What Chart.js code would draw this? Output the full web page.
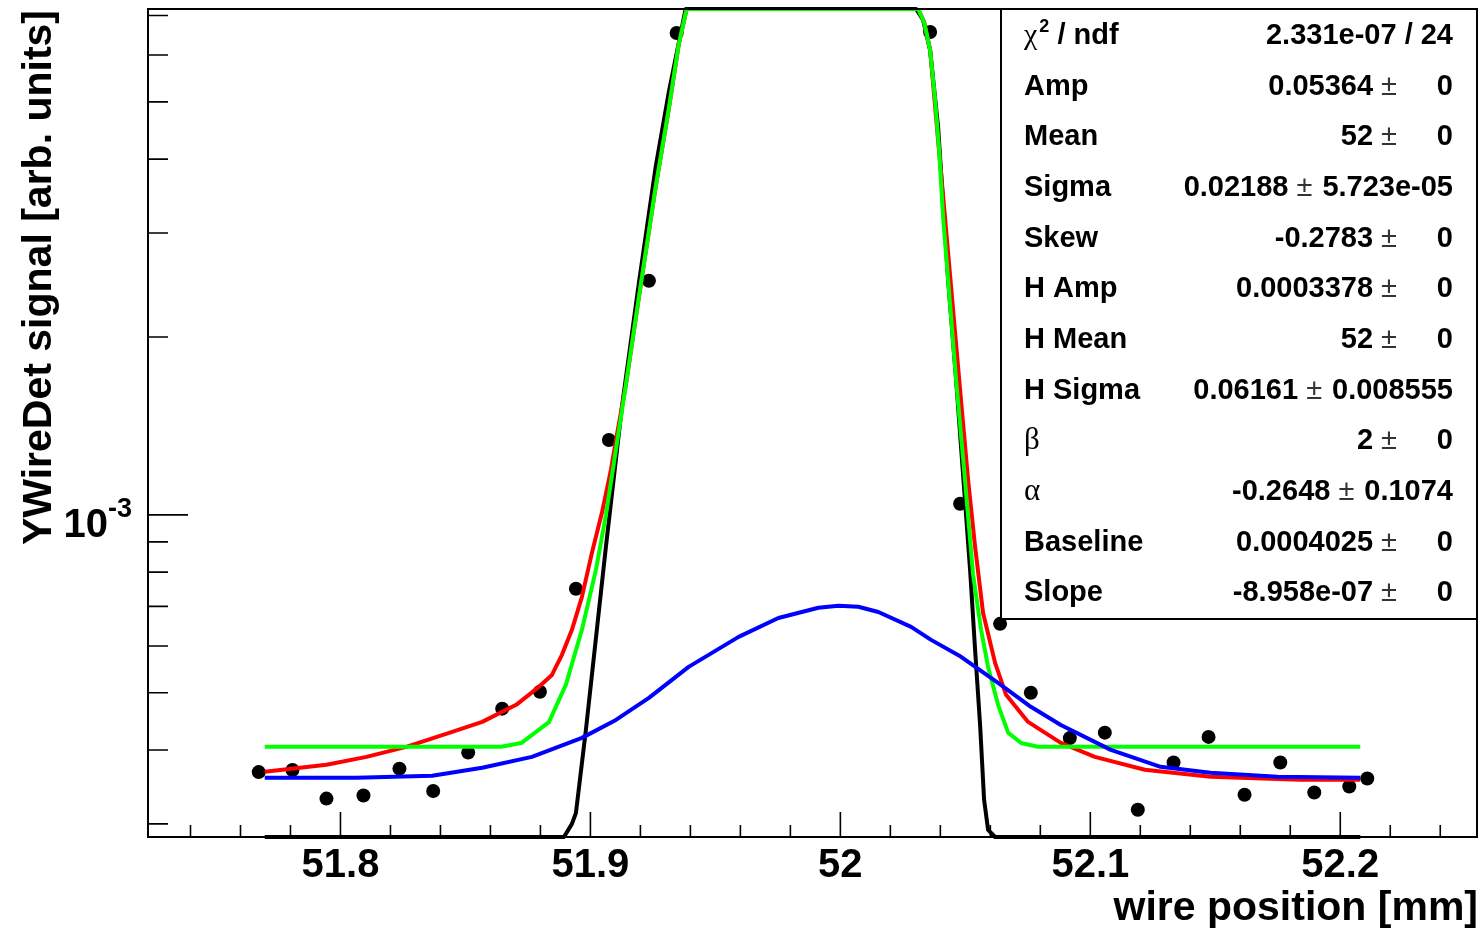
<!DOCTYPE html>
<html>
<head>
<meta charset="utf-8">
<title>YWireDet wire scan</title>
<script src="https://cdn.jsdelivr.net/npm/chart.js@4.4.0/dist/chart.umd.min.js"></script>
<style>
html, body { margin: 0; padding: 0; background: #fff; }
canvas { display: block; }
</style>
</head>
<body>
<canvas id="scanChart" width="1484" height="931"></canvas>
<script>
// axis ranges
const X_MIN = 51.723, X_MAX = 52.2547;
const Y_MIN = 2.85e-4, Y_MAX = 7.18e-3;

// ticks
const xMajor = [51.8, 51.9, 52.0, 52.1, 52.2];
const xLabels = ['51.8', '51.9', '52', '52.1', '52.2'];
const xMinor = [51.74, 51.76, 51.78, 51.82, 51.84, 51.86, 51.88, 51.92, 51.94, 51.96, 51.98,
                52.02, 52.04, 52.06, 52.08, 52.12, 52.14, 52.16, 52.18, 52.22, 52.24];
const yMajor = [1e-3];
const yLabels = [['10', '-3']];
const yMinor = [3e-4, 4e-4, 5e-4, 6e-4, 7e-4, 8e-4, 9e-4, 2e-3, 3e-3, 4e-3, 5e-3, 6e-3, 7e-3];

// measured wire scan
const scanX = [51.7673, 51.7808, 51.7944, 51.8092, 51.8236, 51.8371, 51.8511, 51.8647, 51.8798,
               51.8942, 51.9074, 51.9234, 51.9345, 52.0359, 52.0479, 52.0639, 52.0762, 52.0918,
               52.1058, 52.1190, 52.1333, 52.1473, 52.1617, 52.1760, 52.1896, 52.2036, 52.2108];
const scanY = [3.67e-4, 3.70e-4, 3.31e-4, 3.35e-4, 3.72e-4, 3.41e-4, 3.96e-4, 4.70e-4, 5.02e-4,
               7.50e-4, 1.339e-3, 2.49e-3, 6.54e-3, 6.565e-3, 1.044e-3, 6.54e-4, 5.00e-4, 4.19e-4,
               4.28e-4, 3.17e-4, 3.81e-4, 4.21e-4, 3.36e-4, 3.81e-4, 3.39e-4, 3.47e-4, 3.58e-4];

// core peak alone (black), sits on the frame where it leaves the range
const coreX = [51.7697, 51.8894, 51.8926, 51.8942, 51.8982, 51.9062, 51.9126, 51.9194, 51.9261,
               51.9313, 51.9381, 52.0303, 52.0331, 52.0359, 52.0391, 52.0431, 52.0463, 52.0491,
               52.0519, 52.0539, 52.0559, 52.0575, 52.0591, 52.0619, 52.2080];
const coreY = [2.85e-4, 2.85e-4, 3.00e-4, 3.13e-4, 4.33e-4, 8.83e-4, 1.523e-3, 2.47e-3, 3.88e-3,
               5.176e-3, 7.18e-3, 7.18e-3, 6.88e-3, 6.12e-3, 4.535e-3, 2.498e-3, 1.692e-3, 1.169e-3,
               8.07e-4, 5.91e-4, 4.41e-4, 3.295e-4, 2.93e-4, 2.85e-4, 2.85e-4];

// core peak + baseline (green)
const peakX = [51.7697, 51.8643, 51.8723, 51.8834, 51.8902, 51.8966, 51.9022, 51.9062, 51.9102,
               51.9142, 51.9194, 51.9261, 51.9313, 51.9353, 51.9385, 52.0311, 52.0335, 52.0359,
               52.0379, 52.0395, 52.0411, 52.0431, 52.0463, 52.0495, 52.0531, 52.0563, 52.0591,
               52.0631, 52.0671, 52.0723, 52.0790, 52.2080];
const peakY = [4.05e-4, 4.05e-4, 4.11e-4, 4.46e-4, 5.16e-4, 6.39e-4, 8.07e-4, 1.0e-3, 1.288e-3,
               1.66e-3, 2.338e-3, 3.589e-3, 4.846e-3, 6.243e-3, 7.18e-3, 7.18e-3, 6.826e-3, 6.12e-3,
               5.04e-3, 4.146e-3, 3.193e-3, 2.498e-3, 1.692e-3, 1.192e-3, 7.92e-4, 6.39e-4, 5.53e-4,
               4.77e-4, 4.28e-4, 4.11e-4, 4.05e-4, 4.05e-4];

// full fit (red)
const fitX = [51.7697, 51.7944, 51.8104, 51.8263, 51.8435, 51.8567, 51.8703, 51.8794, 51.8846,
              51.8886, 51.8926, 51.8966, 51.9006, 51.9046, 51.9082, 51.9106, 51.9142, 51.9194,
              51.9261, 51.9313, 51.9353, 51.9385, 52.0311, 52.0335, 52.0359, 52.0391, 52.0423,
              52.0451, 52.0479, 52.0511, 52.0539, 52.0571, 52.0619, 52.0663, 52.0751, 52.0882,
              52.1018, 52.1218, 52.1481, 52.1840, 52.2080];
const fitY = [3.674e-4, 3.776e-4, 3.895e-4, 4.05e-4, 4.277e-4, 4.463e-4, 4.77e-4, 5.117e-4, 5.36e-4,
              5.796e-4, 6.39e-4, 7.266e-4, 8.624e-4, 1.008e-3, 1.192e-3, 1.366e-3, 1.66e-3, 2.338e-3,
              3.589e-3, 4.846e-3, 6.243e-3, 7.18e-3, 7.18e-3, 6.826e-3, 6.12e-3, 4.31e-3, 3.035e-3,
              2.223e-3, 1.627e-3, 1.146e-3, 8.83e-4, 6.824e-4, 5.618e-4, 4.96e-4, 4.463e-4, 4.113e-4,
              3.895e-4, 3.703e-4, 3.603e-4, 3.561e-4, 3.561e-4];

// halo gaussian + baseline (blue)
const haloX = [51.7697, 51.8064, 51.8367, 51.8567, 51.8766, 51.8966, 51.9102, 51.9234, 51.9393,
               51.9593, 51.9752, 51.9912, 51.9992, 52.0072, 52.0152, 52.0283, 52.0363, 52.0483,
               52.0631, 52.0762, 52.0882, 52.1082, 52.1281, 52.1481, 52.1749, 52.2080];
const haloY = [3.589e-4, 3.589e-4, 3.618e-4, 3.732e-4, 3.895e-4, 4.194e-4, 4.498e-4, 4.901e-4, 5.531e-4,
               6.217e-4, 6.692e-4, 6.963e-4, 7.015e-4, 6.989e-4, 6.85e-4, 6.464e-4, 6.144e-4, 5.751e-4,
               5.197e-4, 4.733e-4, 4.41e-4, 4.002e-4, 3.747e-4, 3.66e-4, 3.603e-4, 3.589e-4];

// fit parameters for the stats box
const statNames = ['Amp', 'Mean', 'Sigma', 'Skew', 'H Amp', 'H Mean', 'H Sigma', '\u03b2', '\u03b1', 'Baseline', 'Slope'];
const statValues = ['0.05364', '52', '0.02188', '-0.2783', '0.0003378', '52', '0.06161', '2', '-0.2648', '0.0004025', '-8.958e-07'];
const statErrors = ['0', '0', '5.723e-05', '0', '0', '0', '0.008555', '0', '0.1074', '0', '0'];
const chi2Text = '2.331e-07 / 24';

function pts(xs, ys) {
    return xs.map((x, i) => ({ x: x, y: ys[i] }));
}

function curve(label, xs, ys, color, order) {
    return {
        label: label,
        data: pts(xs, ys),
        showLine: true,
        borderColor: color,
        borderWidth: 4,
        borderJoinStyle: 'round',
        pointRadius: 0,
        fill: false,
        tension: 0,
        order: order
    };
}

const BOLD = '"Liberation Sans", Arial, Helvetica, sans-serif';
const SERIF = '"Liberation Serif", "DejaVu Serif", serif';

// frame, inward ticks, labels and the stats box, ROOT style
const rootFrame = {
    id: 'rootFrame',
    afterDatasetsDraw(chart) {
        const ctx = chart.ctx;
        const a = chart.chartArea;
        const xs = chart.scales.x, ys = chart.scales.y;
        ctx.save();

        ctx.strokeStyle = '#000';
        ctx.lineWidth = 2;
        ctx.strokeRect(a.left, a.top, a.right - a.left, a.bottom - a.top);

        ctx.lineWidth = 1.6;
        ctx.beginPath();
        xMinor.forEach(v => {
            const px = xs.getPixelForValue(v);
            ctx.moveTo(px, a.bottom); ctx.lineTo(px, a.bottom - 12);
        });
        xMajor.forEach(v => {
            const px = xs.getPixelForValue(v);
            ctx.moveTo(px, a.bottom); ctx.lineTo(px, a.bottom - 25);
        });
        yMinor.forEach(v => {
            const py = ys.getPixelForValue(v);
            ctx.moveTo(a.left, py); ctx.lineTo(a.left + 20, py);
        });
        yMajor.forEach(v => {
            const py = ys.getPixelForValue(v);
            ctx.moveTo(a.left, py); ctx.lineTo(a.left + 40, py);
        });
        ctx.stroke();

        ctx.fillStyle = '#000';
        ctx.textBaseline = 'alphabetic';

        // x tick labels
        ctx.font = 'bold 40px ' + BOLD;
        ctx.textAlign = 'center';
        xMajor.forEach((v, i) => ctx.fillText(xLabels[i], xs.getPixelForValue(v), a.bottom + 40));

        // y tick labels (power of ten)
        yMajor.forEach((v, i) => {
            const py = ys.getPixelForValue(v);
            ctx.font = 'bold 40px ' + BOLD;
            ctx.textAlign = 'right';
            ctx.fillText(yLabels[i][0], 108, py + 22);
            ctx.font = 'bold 27px ' + BOLD;
            ctx.textAlign = 'left';
            ctx.fillText(yLabels[i][1], 108, py + 2);
        });

        // axis titles
        ctx.font = 'bold 41px ' + BOLD;
        ctx.textAlign = 'right';
        ctx.fillText('wire position [mm]', 1478, 920);
        ctx.save();
        ctx.translate(51, a.top + 1);
        ctx.rotate(-Math.PI / 2);
        ctx.fillText('YWireDet signal [arb. units]', 0, 0);
        ctx.restore();

        // stats box
        const bx = 1001, by = a.top, bw = a.right - 1001, bh = 610;
        ctx.fillStyle = '#fff';
        ctx.fillRect(bx, by, bw, bh);
        ctx.strokeStyle = '#000';
        ctx.lineWidth = 2;
        ctx.strokeRect(bx, by, bw, bh);
        ctx.fillStyle = '#000';

        const nameX = 1024, rightX = 1453, rowH = 50.65;
        let base = 44;

        // chi2 / ndf row
        ctx.textAlign = 'left';
        ctx.font = '30px ' + SERIF;
        ctx.fillText('\u03c7', nameX, base);
        let cx = nameX + ctx.measureText('\u03c7').width + 2;
        ctx.font = 'bold 18px ' + BOLD;
        ctx.fillText('2', cx, base - 12);
        cx += ctx.measureText('2').width;
        ctx.font = 'bold 29px ' + BOLD;
        ctx.fillText(' / ndf', cx, base);
        ctx.textAlign = 'right';
        ctx.fillText(chi2Text, rightX, base);

        statNames.forEach((name, i) => {
            const y = base + rowH * (i + 1);
            const greek = name.length === 1;
            ctx.textAlign = 'left';
            ctx.font = greek ? '31px ' + SERIF : 'bold 29px ' + BOLD;
            ctx.fillText(name, nameX, y);

            ctx.font = 'bold 29px ' + BOLD;
            ctx.textAlign = 'right';
            const errW = ctx.measureText(statErrors[i]).width;
            ctx.fillText(statErrors[i], rightX, y);
            const pmRight = rightX - Math.max(errW, 46) - 10;
            ctx.font = '29px ' + BOLD;
            ctx.fillStyle = '#333';
            const pmW = ctx.measureText('\u00b1').width;
            ctx.fillText('\u00b1', pmRight, y);
            ctx.fillStyle = '#000';
            ctx.font = 'bold 29px ' + BOLD;
            ctx.fillText(statValues[i], pmRight - pmW - 8, y);
        });

        ctx.restore();
    }
};

const coreCurve = curve('core', coreX, coreY, '#000000', 4);
coreCurve.clip = { left: 2, top: 2, right: 2, bottom: 5 };

new Chart(document.getElementById('scanChart').getContext('2d'), {
    type: 'scatter',
    data: {
        datasets: [
            curve('halo', haloX, haloY, '#0000ff', 1),
            curve('peak', peakX, peakY, '#00ff00', 2),
            curve('fit', fitX, fitY, '#ff0000', 3),
            coreCurve,
            {
                label: 'scan',
                data: pts(scanX, scanY),
                pointRadius: 7,
                pointBackgroundColor: '#000',
                pointBorderWidth: 0,
                order: 5
            }
        ]
    },
    options: {
        responsive: false,
        animation: false,
        devicePixelRatio: 1,
        layout: { padding: { left: 148, top: 9, right: 4, bottom: 94 } },
        plugins: { legend: { display: false }, tooltip: { enabled: false } },
        scales: {
            x: { type: 'linear', min: X_MIN, max: X_MAX, display: false },
            y: { type: 'logarithmic', min: Y_MIN, max: Y_MAX, display: false }
        }
    },
    plugins: [rootFrame]
});
</script>
</body>
</html>
